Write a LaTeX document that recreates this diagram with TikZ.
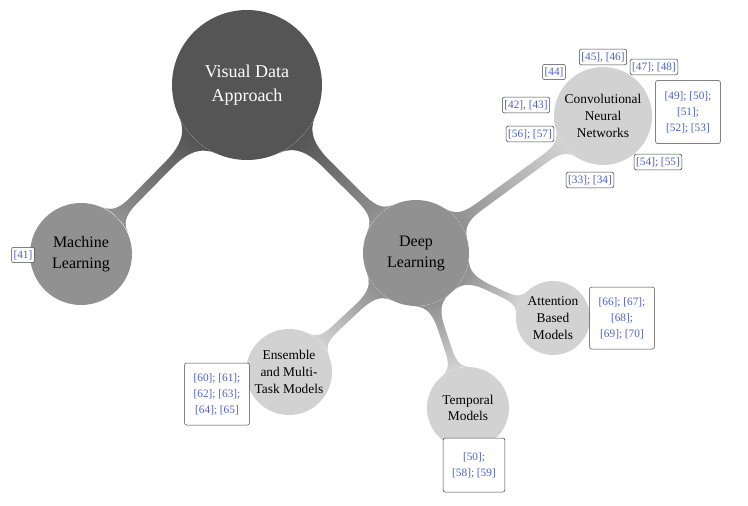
\documentclass[tikz,border=0pt]{standalone}
\usepackage{fontspec}
\setmainfont{Liberation Serif}
\usetikzlibrary{mindmap,backgrounds}
\definecolor{cRoot}{RGB}{85,85,85}
\definecolor{cMid}{RGB}{145,145,145}
\definecolor{cLeaf}{RGB}{210,210,210}
\definecolor{citeblue}{RGB}{80,96,205}
\begin{document}
\begin{tikzpicture}[x=1pt,y=-1pt,
  rootc/.style={circle, fill=cRoot, text=white, minimum size=150pt, inner sep=0pt, align=center, font=\fontsize{18}{24}\selectfont},
  midc/.style={circle, fill=cMid, text=black, minimum size=#1, inner sep=0pt, align=center, font=\fontsize{16}{21}\selectfont},
  leafc/.style={circle, fill=cLeaf, text=black, minimum size=#1, inner sep=0pt, align=center, font=\fontsize{13.4}{16.7}\selectfont},
  cite/.style={draw=black!75, line width=0.5pt, rounded corners=2pt, fill=white, text=citeblue, inner xsep=2pt, inner ysep=3pt, align=center, font=\fontsize{11.3}{16}\selectfont},
  citem/.style={cite, inner xsep=9pt, minimum height=#1},
  barA/.style={line width=20pt},
  barB/.style={line width=10pt},
]
\useasboundingbox (0,0) rectangle (748,506);
\node[rootc] (root) at (247,85) {Visual Data\\Approach};
\node[midc=102pt] (ml) at (81,254) {Machine\\Learning};
\node[midc=106pt] (dl) at (416,253) {Deep\\Learning};
\node[leafc=98pt] (cnn) at (603,116) {Convolutional\\Neural\\Networks};
\node[leafc=74pt] (att) at (553,318) {Attention\\Based\\Models};
\node[leafc=82pt] (tmp) at (468,408) {Temporal\\Models};
\node[leafc=86pt] (ens) at (289,372) {Ensemble\\and Multi-\\Task Models};
\begin{pgfonlayer}{background}
\path[barA] (root) to[circle connection bar switch color=from (cRoot) to (cMid)] (ml);
\path[barA] (root) to[circle connection bar switch color=from (cRoot) to (cMid)] (dl);
\path[barB] (dl) to[circle connection bar switch color=from (cMid) to (cLeaf)] (cnn);
\path[barB] (dl) to[circle connection bar switch color=from (cMid) to (cLeaf)] (att);
\path[barB] (dl) to[circle connection bar switch color=from (cMid) to (cLeaf)] (tmp);
\path[barB] (dl) to[circle connection bar switch color=from (cMid) to (cLeaf)] (ens);
\end{pgfonlayer}
\node[cite] (c41) at (23,255) {[41]};
\node[cite] (c44) at (554,72) {[44]};
\node[cite] (c45) at (603,57) {[45], [46]};
\node[cite] (c47) at (654,67) {[47]; [48]};
\node[cite] (c42) at (526,105) {[42], [43]};
\node[cite] (c56) at (530,134) {[56]; [57]};
\node[cite] (c54) at (658,162) {[54]; [55]};
\node[cite] (c33) at (590,180) {[33]; [34]};
\node[citem=63pt] (c49) at (688,112) {[49]; [50];\\\relax[51];\\\relax[52]; [53]};
\node[citem=62pt] (c60) at (217,394) {[60]; [61];\\\relax[62]; [63];\\\relax[64]; [65]};
\node[citem=62pt] (c66) at (622,318) {[66]; [67];\\\relax[68];\\\relax[69]; [70]};
\node[citem=54pt] (c50) at (474,465) {[50];\\\relax[58]; [59]};
\end{tikzpicture}
\end{document}
